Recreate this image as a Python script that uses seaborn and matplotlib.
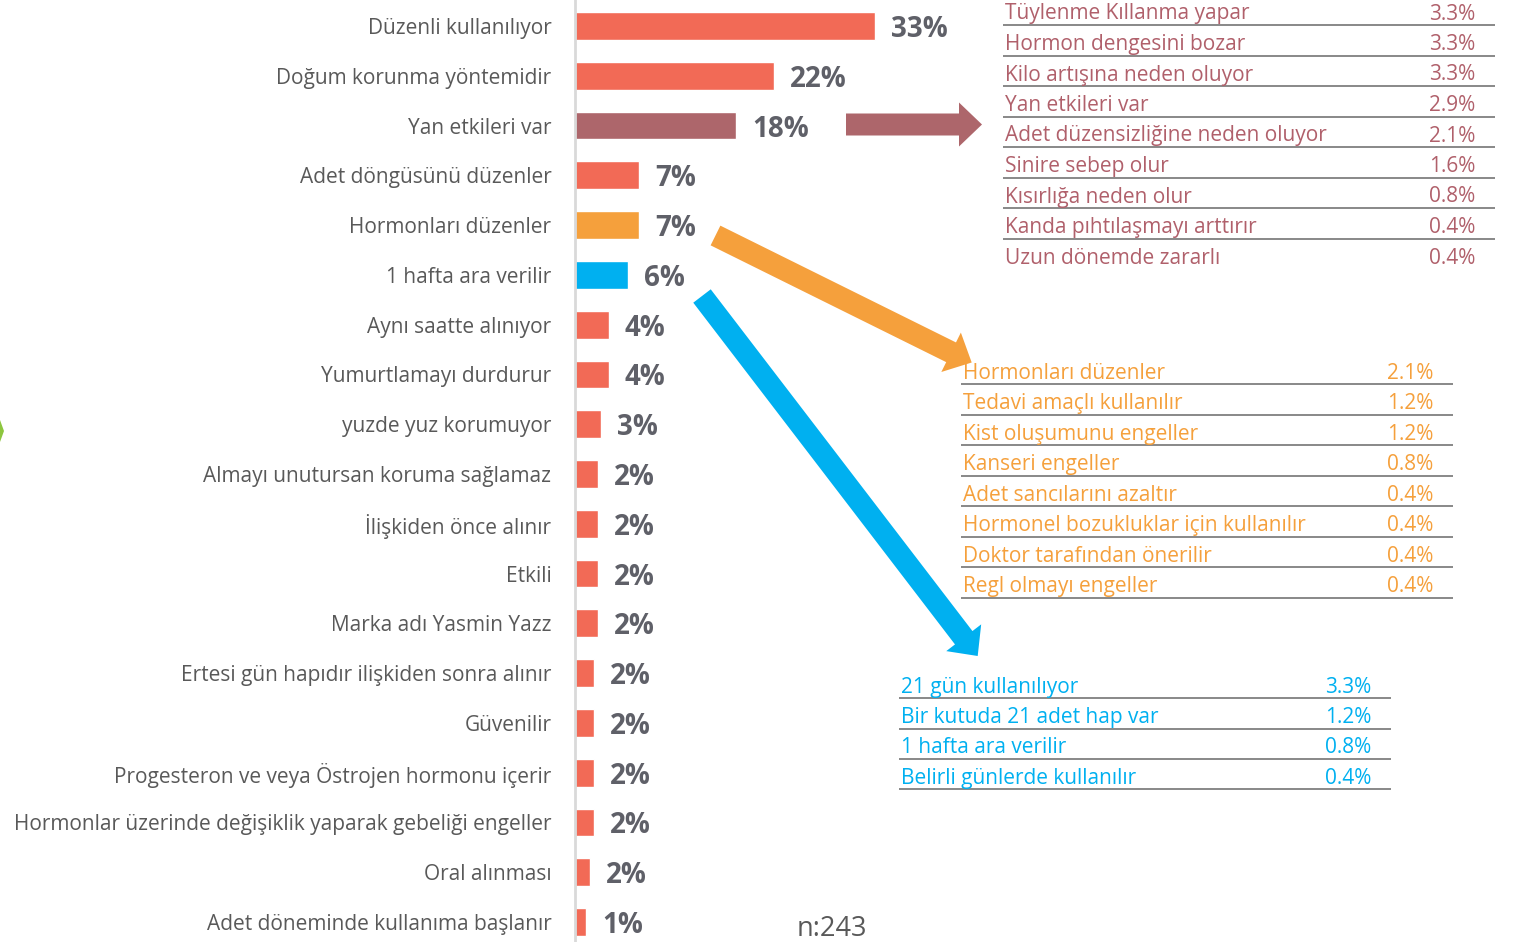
import matplotlib
matplotlib.use("Agg")
import matplotlib.pyplot as plt
import matplotlib.patches as mpatches
import seaborn as sns
import pandas as pd

# ana grafik verisi (n:243)
categories = [
    "Düzenli kullanılıyor",
    "Doğum korunma yöntemidir",
    "Yan etkileri var",
    "Adet döngüsünü düzenler",
    "Hormonları düzenler",
    "1 hafta ara verilir",
    "Aynı saatte alınıyor",
    "Yumurtlamayı durdurur",
    "yuzde yuz korumuyor",
    "Almayı unutursan koruma sağlamaz",
    "İlişkiden önce alınır",
    "Etkili",
    "Marka adı Yasmin Yazz",
    "Ertesi gün hapıdır ilişkiden sonra alınır",
    "Güvenilir",
    "Progesteron ve veya Östrojen hormonu içerir",
    "Hormonlar üzerinde değişiklik yaparak gebeliği engeller",
    "Oral alınması",
    "Adet döneminde kullanıma başlanır",
]
values = [32.9, 21.8, 17.7, 7.0, 7.0, 5.8, 3.7, 3.7, 2.9, 2.5, 2.5, 2.5, 2.5,
          2.1, 2.1, 2.1, 2.1, 1.6, 1.2]
value_labels = ["33%", "22%", "18%", "7%", "7%", "6%", "4%", "4%", "3%", "2%",
                "2%", "2%", "2%", "2%", "2%", "2%", "2%", "2%", "1%"]

# alt kırılımlar
side_items = ["Tüylenme Kıllanma yapar", "Hormon dengesini bozar",
              "Kilo artışına neden oluyor", "Yan etkileri var",
              "Adet düzensizliğine neden oluyor", "Sinire sebep olur",
              "Kısırlığa neden olur", "Kanda pıhtılaşmayı arttırır",
              "Uzun dönemde zararlı"]
side_values = ["3.3%", "3.3%", "3.3%", "2.9%", "2.1%", "1.6%", "0.8%", "0.4%", "0.4%"]

hormone_items = ["Hormonları düzenler", "Tedavi amaçlı kullanılır",
                 "Kist oluşumunu engeller", "Kanseri engeller",
                 "Adet sancılarını azaltır", "Hormonel bozukluklar için kullanılır",
                 "Doktor tarafından önerilir", "Regl olmayı engeller"]
hormone_values = ["2.1%", "1.2%", "1.2%", "0.8%", "0.4%", "0.4%", "0.4%", "0.4%"]

cycle_items = ["21 gün kullanılıyor", "Bir kutuda 21 adet hap var",
               "1 hafta ara verilir", "Belirli günlerde kullanılır"]
cycle_values = ["3.3%", "1.2%", "0.8%", "0.4%"]

CORAL = "#F26A56"
MAROON = "#AD666B"
ORANGE = "#F5A03C"
BLUE = "#00B0F0"
bar_colors = [CORAL, CORAL, MAROON, CORAL, ORANGE, BLUE] + [CORAL] * 13

sns.set_style("white")
plt.rcParams["font.family"] = ["Open Sans", "DejaVu Sans"]

df = pd.DataFrame({"cevap": categories, "oran": values})

W, H = 1519, 942
PX_PER_PCT = 9.12
fig = plt.figure(figsize=(W / 100, H / 100), dpi=100)
ax = fig.add_axes([575 / W, 0, 420 / W, 1])
sns.barplot(data=df, x="oran", y="cevap", hue="cevap",
            palette=dict(zip(categories, bar_colors)), saturation=1,
            width=0.56, legend=False, orient="h", ax=ax)
ax.set_xlim(0, 420 / PX_PER_PCT)
step = (922 - 26) / 18
ax.set_ylim(18 + (H - 922) / step, -26 / step)
ax.set_xlabel("")
ax.set_ylabel("")
ax.set_xticks([])
ax.tick_params(axis="y", length=0, pad=17, labelsize=15, labelcolor="#595959")
sns.despine(ax=ax, left=False, bottom=True)
ax.spines["left"].set_color("#d9d9d9")
ax.spines["left"].set_linewidth(2)
ax.patch.set_alpha(0)

for i, (v, lab) in enumerate(zip(values, value_labels)):
    ax.text(v + 16 / PX_PER_PCT, i, lab, va="center_baseline", ha="left",
            fontsize=20, fontweight="bold", color="#5f6068")

# üst katman: oklar ve tablolar (piksel koordinatları)
ov = fig.add_axes([0, 0, 1, 1])
ov.set_xlim(0, W)
ov.set_ylim(H, 0)
ov.axis("off")
ov.patch.set_alpha(0)


def arrow(x0, y0, x1, y1, color):
    ov.add_patch(mpatches.FancyArrow(x0, y0, x1 - x0, y1 - y0, width=22,
                                     head_width=44, head_length=23,
                                     length_includes_head=True,
                                     color=color, lw=0))


arrow(846, 124.5, 982, 124.5, MAROON)
arrow(715.5, 235.5, 971.7, 362.5, ORANGE)
arrow(702, 296, 977.7, 656, BLUE)


def table(items, vals, color, x0, x1, xval, first_line, gap, n_lines):
    for k, (t, v) in enumerate(zip(items, vals)):
        base = first_line + k * gap - 5.5
        ov.text(x0 + 2, base, t, color=color, fontsize=15, va="baseline", ha="left")
        ov.text(xval, base, v, color=color, fontsize=15, va="baseline", ha="right")
    for k in range(n_lines):
        y = first_line + k * gap
        ov.plot([x0, x1], [y, y], color="#7f7f7f", lw=1.3, solid_capstyle="butt")


table(side_items, side_values, "#B0606B", 1003, 1495, 1475, 25, 30.5, 8)
table(hormone_items, hormone_values, ORANGE, 961, 1453, 1433, 384.3, 30.48, 8)
table(cycle_items, cycle_values, BLUE, 899, 1391, 1371, 698.3, 30.3, 4)

ov.text(797, 925, "n:243", fontsize=19.5, color="#595959", va="center_baseline", ha="left")
ov.add_patch(mpatches.Polygon([[0, 420], [4, 431], [0, 442]], closed=True,
                              color="#8DC63F", lw=0))

fig.savefig("out.png", dpi=100)
